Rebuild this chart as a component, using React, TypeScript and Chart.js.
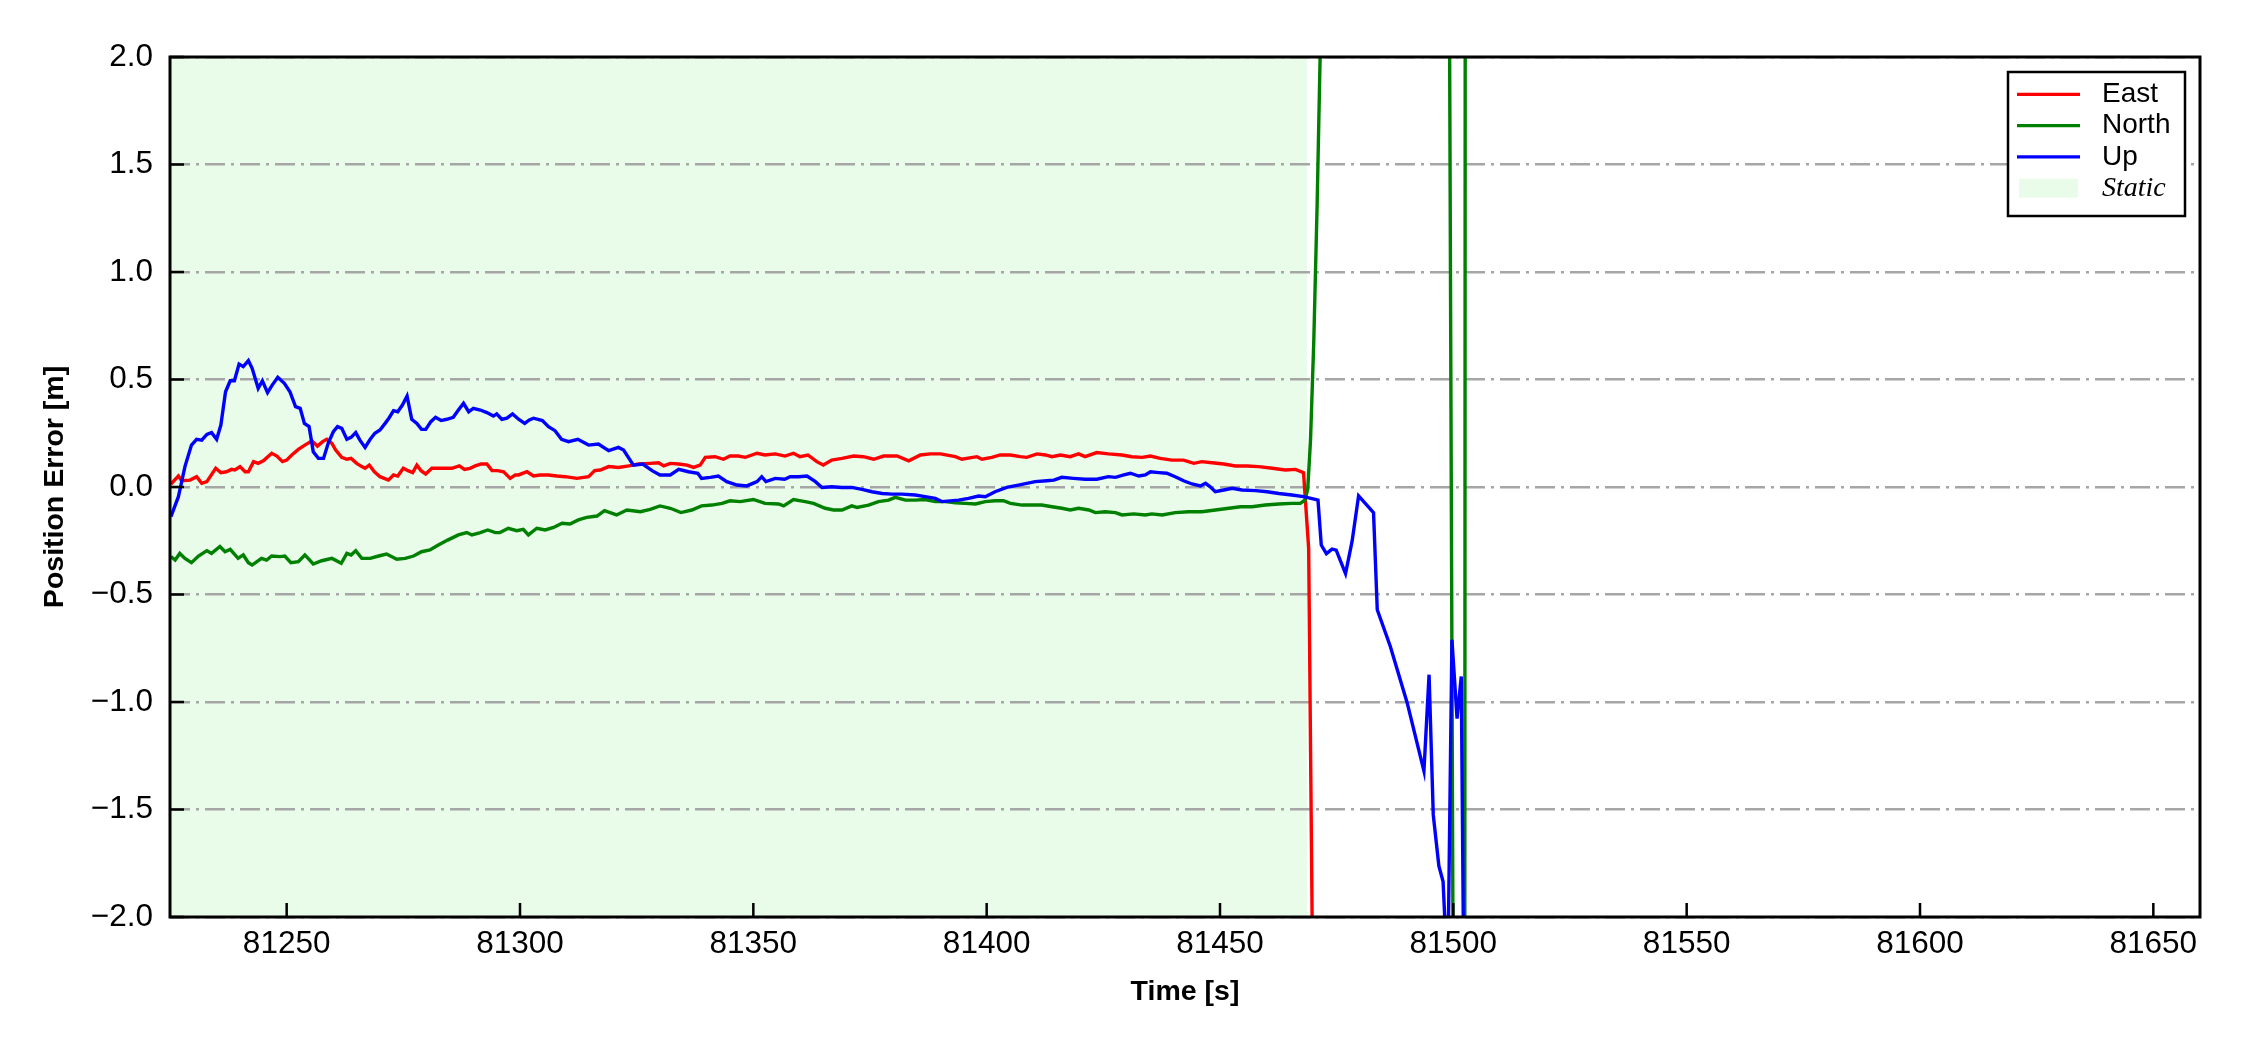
import React, { useEffect, useRef } from 'react';
import { Chart, registerables } from 'chart.js';

Chart.register(...registerables);

// ---------------- data ----------------
const eastTime = [
  81225.2, 81226.8, 81227.5, 81229.3, 81230.7, 81231.8, 81232.9, 81234.8, 81235.9, 81237.1,
  81238.2, 81238.9, 81240.0, 81241.1, 81241.8, 81242.9, 81243.9, 81245.0, 81246.8, 81247.9,
  81249.1, 81250.0, 81251.1, 81252.5, 81253.9, 81255.4, 81256.6, 81257.7, 81258.6, 81259.7,
  81260.5, 81261.8, 81262.9, 81263.8, 81265.0, 81266.1, 81266.8, 81267.7, 81268.8, 81270.0,
  81271.8, 81272.9, 81273.8, 81275.0, 81276.0, 81277.0, 81277.9, 81278.8, 81279.8, 81281.1,
  81282.5, 81284.0, 81285.4, 81287.0, 81288.1, 81289.3, 81290.4, 81291.7, 81292.9, 81294.0,
  81295.2, 81296.5, 81297.9, 81299.0, 81299.7, 81301.5, 81302.9, 81304.3, 81306.1, 81307.9,
  81309.7, 81312.2, 81314.7, 81316.0, 81317.2, 81319.0, 81321.1, 81323.3, 81325.4, 81327.9,
  81329.7, 81330.8, 81332.2, 81334.0, 81335.8, 81337.2, 81338.6, 81339.7, 81341.8, 81343.6,
  81345.0, 81346.8, 81348.3, 81350.8, 81352.5, 81354.7, 81356.8, 81358.6, 81360.0, 81361.7,
  81363.6, 81365.0, 81366.8, 81369.0, 81371.5, 81373.6, 81375.8, 81377.9, 81380.8, 81383.3,
  81385.8, 81387.9, 81390.1, 81393.3, 81394.7, 81397.9, 81399.0, 81401.1, 81402.9, 81405.1,
  81407.2, 81408.6, 81410.8, 81412.6, 81414.0, 81415.8, 81417.9, 81419.7, 81421.1, 81423.6,
  81426.1, 81429.0, 81431.1, 81433.3, 81435.1, 81437.2, 81439.7, 81442.2, 81444.4, 81446.1,
  81448.3, 81450.8, 81453.3, 81455.8, 81458.3, 81461.2, 81464.0, 81466.2, 81467.9, 81469.0,
  81470.0, 81471.0,
];
const eastValues = [
  0.014, 0.051, 0.029, 0.032, 0.048, 0.017, 0.025, 0.087, 0.067, 0.071,
  0.082, 0.079, 0.095, 0.071, 0.071, 0.118, 0.11, 0.122, 0.157, 0.144,
  0.118, 0.125, 0.149, 0.175, 0.195, 0.215, 0.19, 0.211, 0.222, 0.203,
  0.172, 0.138, 0.129, 0.133, 0.11, 0.095, 0.087, 0.102, 0.071, 0.048,
  0.032, 0.056, 0.051, 0.087, 0.076, 0.067, 0.102, 0.076, 0.06, 0.087,
  0.087, 0.087, 0.087, 0.098, 0.082, 0.087, 0.098, 0.107, 0.107, 0.076,
  0.076, 0.071, 0.04, 0.056, 0.056, 0.071, 0.051, 0.056, 0.056, 0.051,
  0.048, 0.04, 0.048, 0.076, 0.079, 0.095, 0.091, 0.098, 0.107, 0.11,
  0.113, 0.098, 0.11, 0.107, 0.102, 0.091, 0.102, 0.138, 0.141, 0.129,
  0.144, 0.144, 0.138, 0.157, 0.149, 0.154, 0.144, 0.157, 0.141, 0.149,
  0.118, 0.102, 0.125, 0.133, 0.144, 0.141, 0.129, 0.144, 0.144, 0.122,
  0.149, 0.154, 0.154, 0.141, 0.129, 0.141, 0.129, 0.138, 0.149, 0.149,
  0.141, 0.138, 0.154, 0.149, 0.141, 0.149, 0.141, 0.154, 0.141, 0.16,
  0.154, 0.149, 0.141, 0.138, 0.144, 0.133, 0.125, 0.125, 0.11, 0.118,
  0.113, 0.107, 0.098, 0.098, 0.095, 0.087, 0.079, 0.082, 0.067, -0.285,
  -2.6, -5.0,
];

const northTime = [
  81225.2, 81226.1, 81227.1, 81228.2, 81229.6, 81231.1, 81232.9, 81233.9, 81235.7, 81236.8,
  81237.9, 81239.6, 81240.7, 81241.8, 81242.6, 81244.6, 81245.7, 81246.8, 81248.6, 81249.6,
  81250.9, 81252.5, 81253.9, 81255.7, 81257.5, 81259.7, 81261.7, 81262.9, 81263.8, 81264.8,
  81266.1, 81267.9, 81269.7, 81271.4, 81273.6, 81275.4, 81277.2, 81278.9, 81280.7, 81282.5,
  81284.5, 81286.8, 81288.6, 81289.7, 81291.5, 81293.1, 81294.7, 81295.7, 81297.5, 81299.3,
  81300.7, 81301.8, 81303.6, 81305.4, 81307.2, 81309.0, 81310.7, 81312.5, 81314.3, 81316.5,
  81318.1, 81320.7, 81322.9, 81325.8, 81327.9, 81330.0, 81332.2, 81334.5, 81336.8, 81338.9,
  81341.1, 81343.3, 81345.0, 81347.2, 81350.0, 81352.5, 81355.4, 81356.5, 81358.6, 81361.1,
  81362.9, 81365.4, 81367.2, 81369.0, 81371.1, 81372.2, 81374.7, 81376.8, 81379.0, 81380.4,
  81382.6, 81384.7, 81386.8, 81389.0, 81391.1, 81393.3, 81395.4, 81397.6, 81399.7, 81401.8,
  81403.6, 81405.1, 81407.6, 81409.7, 81411.8, 81414.0, 81416.1, 81417.9, 81419.7, 81421.9,
  81423.3, 81425.4, 81427.6, 81429.0, 81431.5, 81434.0, 81435.4, 81437.6, 81440.4, 81443.3,
  81446.1, 81449.0, 81451.9, 81454.4, 81456.9, 81459.7, 81462.6, 81465.4, 81467.2, 81468.2,
  81468.8, 81469.4, 81470.1, 81470.8, 81471.5, 81472.3, 81480.0, 81490.0, 81499.0, 81500.0,
  81502.0, 81503.0, 81504.0,
];
const northValues = [
  -0.324, -0.34, -0.309, -0.332, -0.352, -0.321, -0.296, -0.309, -0.277, -0.301,
  -0.29, -0.332, -0.316, -0.352, -0.363, -0.332, -0.34, -0.321, -0.324, -0.321,
  -0.352, -0.347, -0.316, -0.358, -0.343, -0.332, -0.355, -0.309, -0.316, -0.296,
  -0.332, -0.332, -0.321, -0.312, -0.336, -0.332, -0.321, -0.301, -0.293, -0.27,
  -0.247, -0.223, -0.212, -0.223, -0.212, -0.2, -0.212, -0.212, -0.192, -0.203,
  -0.197, -0.223, -0.192, -0.2, -0.188, -0.169, -0.172, -0.153, -0.141, -0.135,
  -0.11, -0.13, -0.107, -0.115, -0.104, -0.088, -0.099, -0.119, -0.107, -0.088,
  -0.084, -0.076, -0.064, -0.068, -0.058, -0.076, -0.079, -0.088, -0.058, -0.068,
  -0.076, -0.099, -0.107, -0.107, -0.088, -0.095, -0.084, -0.068, -0.061, -0.048,
  -0.061, -0.061, -0.058, -0.068, -0.068, -0.073, -0.076, -0.079, -0.068, -0.064,
  -0.064, -0.076, -0.084, -0.084, -0.084, -0.092, -0.099, -0.107, -0.099, -0.107,
  -0.119, -0.115, -0.119, -0.13, -0.125, -0.13, -0.125, -0.13, -0.119, -0.115,
  -0.115, -0.107, -0.099, -0.092, -0.092, -0.084, -0.079, -0.076, -0.076, -0.061,
  -0.01, 0.22, 0.68, 1.3, 2.05, 3.0, 5.0, 5.0, 3.2, -2.5,
  -25.0, 25.0, 28.0,
];

const upTime = [
  81225.2, 81226.8, 81228.2, 81229.6, 81230.7, 81231.8, 81232.9, 81233.9, 81235.0, 81235.9,
  81236.9, 81237.9, 81238.8, 81239.8, 81240.7, 81241.8, 81242.6, 81243.9, 81244.8, 81245.9,
  81246.9, 81248.1, 81249.5, 81250.7, 81251.9, 81252.9, 81253.8, 81254.8, 81255.7, 81256.8,
  81257.9, 81258.9, 81260.0, 81260.9, 81261.8, 81262.9, 81263.8, 81264.8, 81265.7, 81266.8,
  81267.9, 81268.9, 81270.0, 81271.1, 81271.9, 81272.9, 81273.8, 81274.8, 81275.8, 81276.8,
  81277.9, 81278.9, 81279.8, 81280.9, 81281.9, 81283.1, 81284.3, 81285.7, 81286.8, 81287.9,
  81289.0, 81290.0, 81291.5, 81292.9, 81294.3, 81295.0, 81296.1, 81297.2, 81298.4, 81299.7,
  81301.0, 81302.0, 81302.9, 81304.8, 81306.1, 81307.5, 81308.9, 81310.4, 81312.4, 81314.7,
  81316.8, 81319.0, 81321.1, 81322.2, 81324.3, 81326.3, 81328.3, 81330.0, 81332.2, 81334.0,
  81336.1, 81338.1, 81338.9, 81340.8, 81342.5, 81344.3, 81346.5, 81348.6, 81350.8, 81351.8,
  81352.7, 81354.7, 81356.7, 81357.9, 81359.7, 81361.5, 81363.3, 81364.7, 81366.8, 81369.0,
  81371.1, 81373.3, 81375.4, 81377.6, 81379.7, 81381.8, 81384.7, 81386.8, 81389.0, 81390.4,
  81394.0, 81396.1, 81398.3, 81399.7, 81401.8, 81404.3, 81406.8, 81408.6, 81410.4, 81412.9,
  81414.4, 81416.1, 81418.6, 81421.1, 81423.6, 81426.1, 81427.6, 81429.4, 81430.8, 81432.6,
  81434.0, 81435.1, 81436.9, 81438.6, 81440.4, 81442.2, 81444.0, 81445.8, 81446.9, 81447.9,
  81449.0, 81450.8, 81452.6, 81454.7, 81457.6, 81460.1, 81462.6, 81465.4, 81467.9, 81470.4,
  81471.0, 81471.7, 81472.8, 81474.0, 81474.9, 81476.9, 81478.3, 81479.7, 81482.9, 81483.7,
  81486.5, 81490.1, 81493.7, 81494.8, 81495.7, 81496.9, 81497.8, 81498.8, 81499.7, 81500.8,
  81501.7, 81502.5,
];
const upValues = [
  -0.138, -0.045, 0.095, 0.195, 0.222, 0.218, 0.245, 0.253, 0.222, 0.288,
  0.443, 0.494, 0.494, 0.572, 0.56, 0.588, 0.552, 0.459, 0.494, 0.439,
  0.474, 0.51, 0.482, 0.443, 0.374, 0.366, 0.296, 0.281, 0.164, 0.133,
  0.133, 0.203, 0.257, 0.281, 0.273, 0.222, 0.231, 0.253, 0.218, 0.184,
  0.222, 0.25, 0.265, 0.296, 0.32, 0.355, 0.35, 0.381, 0.423, 0.315,
  0.296, 0.268, 0.268, 0.304, 0.324, 0.309, 0.315, 0.324, 0.358, 0.389,
  0.35, 0.366, 0.358, 0.346, 0.33, 0.34, 0.315, 0.32, 0.34, 0.315,
  0.296, 0.312, 0.32, 0.309, 0.281, 0.262, 0.222, 0.211, 0.222, 0.195,
  0.2, 0.169, 0.184, 0.172, 0.102, 0.107, 0.076, 0.056, 0.056, 0.082,
  0.071, 0.064, 0.04, 0.045, 0.051, 0.025, 0.009, 0.005, 0.025, 0.048,
  0.025, 0.04, 0.036, 0.048, 0.048, 0.051, 0.025, -0.002, 0.001, -0.002,
  -0.002, -0.011, -0.022, -0.03, -0.033, -0.033, -0.037, -0.045, -0.053, -0.068,
  -0.061, -0.053, -0.042, -0.045, -0.022, -0.002, 0.009, 0.017, 0.025, 0.029,
  0.032, 0.045, 0.04, 0.036, 0.036, 0.048, 0.045, 0.056, 0.064, 0.051,
  0.056, 0.071, 0.067, 0.064, 0.048, 0.029, 0.014, 0.005, 0.017, 0.001,
  -0.022, -0.014, -0.006, -0.014, -0.017, -0.022, -0.03, -0.037, -0.045, -0.058,
  -0.061, -0.27, -0.31, -0.289, -0.294, -0.403, -0.253, -0.041, -0.119, -0.571,
  -0.742, -1.003, -1.321, -0.873, -1.525, -1.762, -1.835, -2.3, -0.71, -1.077,
  -0.881, -3.0,
];

const staticSpan = [81225, 81468.7];
const seriesLabels = ['East', 'North', 'Up', 'Static'];
const seriesColors = ['#ff0000', '#008000', '#0000ff', 'rgba(144,238,144,0.2)'];

const xRange = [81225, 81660];
const yRange = [-2, 2];
const xTickValues = [81250, 81300, 81350, 81400, 81450, 81500, 81550, 81600, 81650];
const xTickLabels = ['81250', '81300', '81350', '81400', '81450', '81500', '81550', '81600', '81650'];
const yTickValues = [-2, -1.5, -1, -0.5, 0, 0.5, 1, 1.5, 2];
const yTickLabels = ['\u22122.0', '\u22121.5', '\u22121.0', '\u22120.5', '0.0', '0.5', '1.0', '1.5', '2.0'];

const toPoints = (t: number[], v: number[]) => t.map((x, i) => ({ x, y: v[i] }));

// ---------------- plugins ----------------
const frameTicksPlugin = {
  id: 'frameTicks',
  afterDatasetsDraw(chart: any) {
    const { ctx, chartArea: a, scales } = chart;
    ctx.save();
    ctx.strokeStyle = '#000';
    ctx.lineWidth = 2.5;
    ctx.beginPath();
    scales.x.ticks.forEach((t: any) => {
      const px = scales.x.getPixelForValue(t.value);
      ctx.moveTo(px, a.bottom);
      ctx.lineTo(px, a.bottom - 14);
    });
    scales.y.ticks.forEach((t: any) => {
      const py = scales.y.getPixelForValue(t.value);
      ctx.moveTo(a.left, py);
      ctx.lineTo(a.left + 14, py);
    });
    ctx.stroke();
    ctx.lineWidth = 3;
    ctx.strokeRect(a.left, a.top, a.right - a.left, a.bottom - a.top);
    ctx.restore();
  },
};

const boxLegendPlugin = {
  id: 'boxLegend',
  afterDraw(chart: any) {
    const { ctx, chartArea: a } = chart;
    const w = 177;
    const h = 144;
    const x0 = a.right - 15 - w;
    const y0 = a.top + 15;
    ctx.save();
    ctx.fillStyle = '#ffffff';
    ctx.fillRect(x0, y0, w, h);
    ctx.lineWidth = 2.5;
    ctx.strokeStyle = '#000';
    ctx.strokeRect(x0, y0, w, h);
    chart.data.datasets.forEach((ds: any, i: number) => {
      const cy = y0 + 22.3 + i * 31.3;
      if (ds.fill) {
        ctx.fillStyle = ds.backgroundColor;
        ctx.fillRect(x0 + 11, cy - 9.5, 59, 19);
        ctx.font = 'italic 28px "Liberation Serif"';
      } else {
        ctx.strokeStyle = ds.borderColor;
        ctx.lineWidth = 3.2;
        ctx.beginPath();
        ctx.moveTo(x0 + 9, cy);
        ctx.lineTo(x0 + 72, cy);
        ctx.stroke();
        ctx.font = '28px "Liberation Sans"';
      }
      ctx.fillStyle = '#000';
      ctx.textAlign = 'left';
      ctx.textBaseline = 'middle';
      ctx.fillText(ds.label, x0 + 94, cy);
    });
    ctx.restore();
  },
};

export default function App() {
  const canvasRef = useRef<HTMLCanvasElement | null>(null);

  useEffect(() => {
    const canvas = canvasRef.current;
    if (!canvas) return;
    const lineDs = (label: string, color: string, pts: any[], order: number) => ({
      label,
      data: pts,
      borderColor: color,
      backgroundColor: color,
      borderWidth: 3.4,
      pointRadius: 0,
      tension: 0,
      fill: false,
      order,
    });
    const chart = new Chart(canvas, {
      type: 'line',
      data: {
        datasets: [
          lineDs(seriesLabels[0], seriesColors[0], toPoints(eastTime, eastValues), 3),
          lineDs(seriesLabels[1], seriesColors[1], toPoints(northTime, northValues), 2),
          lineDs(seriesLabels[2], seriesColors[2], toPoints(upTime, upValues), 1),
          {
            label: seriesLabels[3],
            data: [
              { x: staticSpan[0], y: yRange[1] },
              { x: staticSpan[1], y: yRange[1] },
            ],
            borderColor: 'rgba(0,0,0,0)',
            backgroundColor: seriesColors[3],
            borderWidth: 0,
            pointRadius: 0,
            fill: 'start',
            order: 4,
          },
        ],
      },
      options: {
        animation: false,
        responsive: false,
        devicePixelRatio: 1,
        events: [],
        layout: { padding: { top: 57, right: 50, left: 0, bottom: 0 } },
        plugins: {
          legend: { display: false },
          tooltip: { enabled: false },
          filler: { drawTime: 'beforeDraw' },
        },
        scales: {
          x: {
            type: 'linear',
            min: xRange[0],
            max: xRange[1],
            afterBuildTicks: (scale: any) => {
              scale.ticks = xTickValues.map((value) => ({ value }));
            },
            afterFit: (scale: any) => {
              scale.height = 133;
            },
            grid: { display: false, drawTicks: false },
            border: { display: false },
            ticks: {
              color: '#000',
              padding: 8,
              maxRotation: 0,
              autoSkip: false,
              font: { family: '"Liberation Sans"', size: 31.5 },
              callback: (_v: any, i: number) => xTickLabels[i],
            },
            title: {
              display: true,
              text: 'Time [s]',
              color: '#000',
              font: { family: '"Liberation Sans"', size: 28.5, weight: 'bold' },
              padding: { top: 0, bottom: 41 },
            },
          },
          y: {
            type: 'linear',
            min: yRange[0],
            max: yRange[1],
            afterBuildTicks: (scale: any) => {
              scale.ticks = yTickValues.map((value) => ({ value }));
            },
            afterFit: (scale: any) => {
              scale.width = 170;
            },
            grid: { color: '#a6a6a6', lineWidth: 2.6, drawTicks: false },
            border: { display: false, dash: [20, 6, 3, 6] },
            ticks: {
              color: '#000',
              padding: 17,
              autoSkip: false,
              font: { family: '"Liberation Sans"', size: 31.5 },
              callback: (_v: any, i: number) => yTickLabels[i],
            },
            title: {
              display: true,
              text: 'Position Error [m]',
              color: '#000',
              font: { family: '"Liberation Sans"', size: 28.5, weight: 'bold' },
              padding: { top: 38, bottom: 0 },
            },
          },
        },
      } as any,
      plugins: [frameTicksPlugin, boxLegendPlugin],
    });
    return () => chart.destroy();
  }, []);

  return (
    <div style={{ position: 'absolute', left: 0, top: 0, width: 2250, height: 1050, background: '#fff' }}>
      <canvas ref={canvasRef} width={2250} height={1050} style={{ display: 'block' }} />
    </div>
  );
}
